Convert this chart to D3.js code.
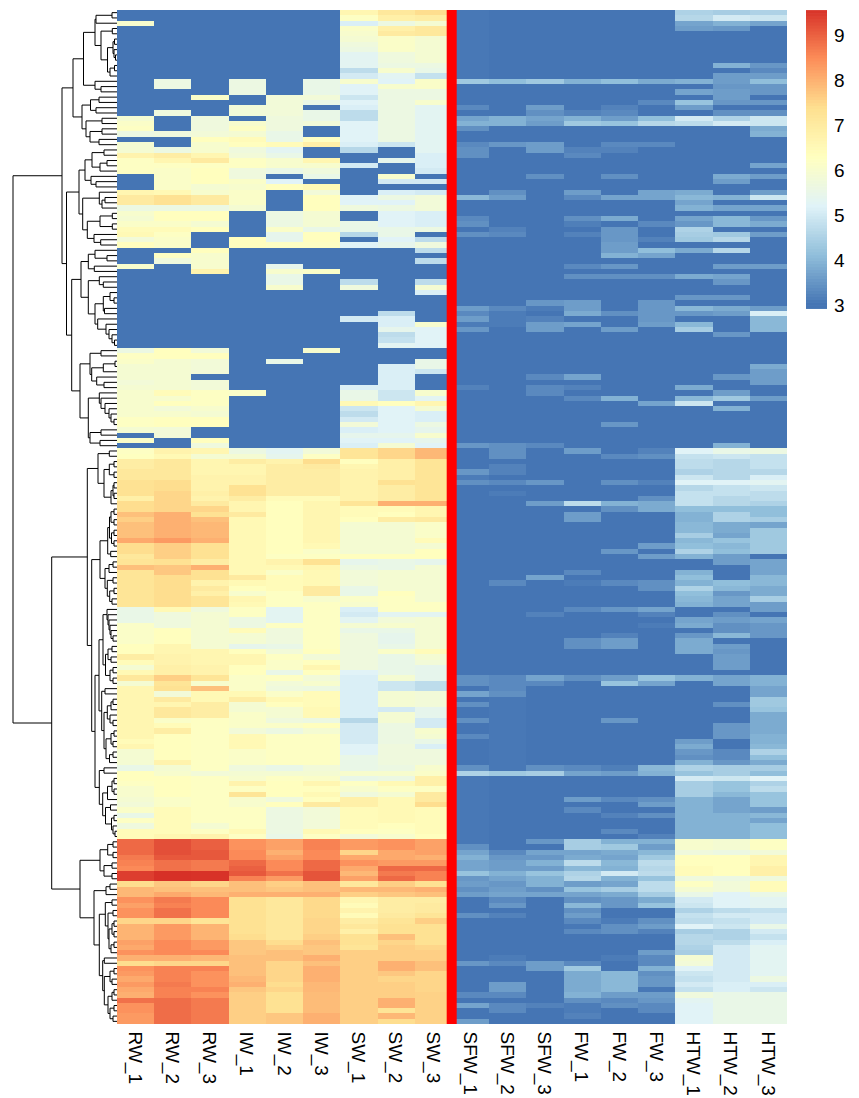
<!DOCTYPE html>
<html>
<head>
<meta charset="utf-8">
<script src="https://cdn.jsdelivr.net/npm/d3@7"></script>
<style>
  body { margin: 0; background: #fff; }
  text { font-family: "Liberation Sans", Arial, sans-serif; fill: #000; }
</style>
</head>
<body>
<div id="chart"></div>
<script>
const samples = ['RW_1', 'RW_2', 'RW_3', 'IW_1', 'IW_2', 'IW_3', 'SW_1', 'SW_2', 'SW_3',
  'SFW_1', 'SFW_2', 'SFW_3', 'FW_1', 'FW_2', 'FW_3', 'HTW_1', 'HTW_2', 'HTW_3'];
const rowCount = 192;

// each column: first row of a run, value of that run, ...
const RW_1 = [0,3, 2,6, 3,3, 20,5.9, 21,6.1, 22,6.2, 23,5.6, 24,3, 25,5.9, 27,6.7, 28,6.2, 31,3, 34,6.6, 35,7, 37,5.6, 38,6, 39,5.9, 40,6.1, 41,6.4, 42,6.5, 43,5.8, 44,6.3, 45,3, 48,6, 49,3, 64,5.6, 65,6.2, 66,6.1, 67,5.9, 70,5.8, 71,5.9, 72,6, 77,6.2, 79,5.9, 80,3, 81,6.1, 82,3, 83,6.2, 84,6.25, 85,6.9, 87,7.1, 89,7.3, 92,6.8, 93,7.4, 95,7.8, 96,7.6, 97,7.8, 100,8.1, 101,7.4, 103,7.1, 104,7.2, 105,7.8, 106,7.2, 113,5.5, 116,6.1, 120,6.3, 122,6.9, 123,6.4, 124,5.9, 125,6.5, 126,7.1, 127,5.9, 128,6.6, 138,6.4, 139,6.6, 140,5.9, 143,5.5, 144,6.3, 146,6.2, 147,6, 149,5.9, 150,5.8, 151,6.1, 152,5.5, 153,6.2, 154,5.7, 155,6.4, 157,8.9, 160,8.7, 161,8.6, 162,8.5, 163,9.4, 165,7.4, 166,7.9, 168,8.4, 169,8.2, 170,8.4, 172,7.5, 173,7.95, 176,8.2, 177,8.1, 178,8.4, 179,8, 180,7.4, 181,8.4, 182,8.3, 183,8.1, 184,8.3, 185,8.1, 186,8, 187,8.8, 188,8.4, 190,8.3];
const RW_2 = [0,3, 13,5.6, 15,3, 19,5.7, 20,3, 23,5.7, 24,3, 26,5.6, 27,6.9, 28,6.6, 29,6.2, 30,6.1, 34,6.5, 35,7.3, 37,5.6, 38,6.3, 40,6.1, 41,6.4, 42,6.2, 43,6.1, 45,3, 46,6.2, 47,5.7, 48,3, 64,6.3, 66,5.9, 72,6.4, 73,6, 74,6.3, 75,5.8, 76,6, 77,6.3, 79,5.8, 81,3, 83,6.7, 84,6.5, 85,7.1, 89,7.4, 91,7.5, 95,8, 100,8.3, 101,7.6, 104,7.3, 105,7.7, 107,7.4, 113,6.5, 114,5.7, 117,6.3, 120,6.6, 122,6.7, 124,6.8, 126,7.6, 127,7.2, 128,7.3, 129,5.8, 130,7, 131,6.6, 132,7.1, 134,6.1, 135,6.4, 136,6.9, 137,6.3, 142,6.7, 143,5.9, 144,6, 145,6.3, 149,6.1, 151,6.4, 156,6.6, 157,9.2, 160,9.1, 161,8.8, 163,9.6, 165,7.7, 166,7.8, 167,8.1, 168,8.7, 169,8.6, 170,8.8, 172,7.5, 173,8.3, 176,8.5, 179,8, 180,7.5, 181,8.6, 184,8.7, 185,8.6, 187,8.85];
const RW_3 = [0,3, 16,6.1, 17,3, 20,5.7, 23,5.8, 24,6.3, 25,6, 27,6.6, 28,7, 29,6.2, 30,6.3, 33,5.9, 34,6, 35,7, 37,5.6, 38,6.3, 40,5.9, 41,6.3, 42,3, 45,6.3, 46,6, 49,6.7, 50,3, 64,5.8, 65,6.3, 66,5.8, 69,3, 70,5.8, 72,6.2, 75,6, 76,5.9, 77,6.3, 79,3, 81,6.3, 82,5.7, 83,6.6, 84,5.9, 85,6.6, 88,6.7, 91,6.8, 92,6.7, 93,7, 94,7.5, 95,7.3, 96,7.8, 97,7.9, 100,8, 101,7.3, 104,6.9, 105,8, 106,7.3, 108,6.7, 109,7, 110,6.8, 111,7.2, 113,5.7, 114,5.9, 120,5.9, 121,6.6, 124,6.7, 126,7.2, 127,6, 128,7.8, 129,6.5, 131,6.9, 134,6.2, 144,5.8, 145,6.2, 154,5.9, 155,6.2, 156,6.7, 157,9, 159,9.1, 161,8.7, 163,9.55, 165,7.5, 166,7.8, 167,7.9, 168,8.5, 172,7.2, 173,7.95, 176,8.3, 178,8.5, 179,7.9, 180,7.5, 181,8.6, 182,8.4, 185,8.6, 186,8.4, 187,8.7];
const IW_1 = [0,3, 13,5.6, 16,3, 18,5.8, 20,3, 21,6, 22,6.2, 23,5.9, 24,6.4, 25,6.3, 26,5.7, 27,5.8, 28,6.2, 30,5.7, 32,6.1, 33,6, 34,6.1, 37,5.9, 38,3, 43,6.3, 45,3, 72,6.1, 73,3, 83,5.6, 84,5.9, 85,6.9, 86,6.6, 88,6.7, 90,7.3, 92,6.9, 93,6.6, 95,7, 96,6.5, 107,7, 108,6.5, 109,6.3, 110,6, 111,6.6, 112,6.5, 113,6.2, 115,5.6, 117,6.4, 118,5.9, 120,5.4, 121,6.3, 122,6.6, 124,6.3, 126,6.1, 129,6.5, 130,6.9, 131,5.9, 133,6.1, 136,5.8, 137,6.5, 140,6.1, 143,5.7, 144,5.9, 145,6, 146,6.7, 147,6.2, 148,7.2, 149,6, 151,6.2, 155,6.5, 156,6.2, 157,8.4, 159,8.5, 161,8.9, 162,9, 163,9.1, 164,8.6, 165,7.8, 167,8, 168,7.3, 175,7.4, 176,7.7, 179,7.8, 183,7.9, 184,8, 185,7.7, 186,7.6];
const IW_2 = [0,3, 16,5.8, 20,5.7, 23,5.5, 25,6.4, 26,5.3, 27,5.5, 28,6, 30,5.5, 31,3, 32,5.2, 33,6.3, 34,3, 38,5.6, 41,6.1, 42,5.4, 44,6.2, 45,3, 48,5.4, 49,6, 50,5.5, 52,6, 53,3, 66,5.5, 67,3, 83,5.3, 84,5.4, 85,6.7, 86,6.9, 92,6.4, 93,6.3, 103,6.2, 104,6.7, 105,6.5, 106,6.1, 107,6.4, 110,6.2, 113,5.3, 116,6.2, 117,5.7, 120,5.5, 121,5.8, 122,6.2, 123,6.1, 125,5.5, 126,6.2, 127,5.8, 128,5.7, 129,6.1, 130,6.5, 131,6.3, 132,5.9, 134,5.7, 135,6.1, 136,5.6, 137,6.2, 143,5.5, 144,5.9, 145,6.2, 146,6.3, 149,5.7, 150,6.3, 151,5.6, 156,5.5, 157,8.2, 159,8, 160,8.2, 161,8.5, 163,8.8, 164,8.3, 165,7.6, 166,7.7, 167,8, 168,7.1, 176,7.4, 177,7.6, 178,7.8, 180,7.5, 184,7.4, 185,7.5, 186,7.3, 190,7.7];
const IW_3 = [0,3, 13,5.5, 16,5.8, 17,5.5, 18,3, 19,5.5, 21,5.8, 22,3, 24,6.2, 25,6.8, 26,3, 28,6.6, 29,6, 30,5.7, 31,5.5, 32,3, 33,6.5, 34,5.8, 35,6.3, 38,5.9, 41,5.5, 42,6.3, 44,6.2, 45,3, 49,6.1, 50,3, 64,6, 65,3, 83,5.8, 84,6.2, 85,7.4, 86,7, 87,6.9, 92,6.4, 93,6.6, 101,6.5, 102,6.1, 103,6.2, 104,7.3, 105,6.6, 106,6.5, 109,7, 111,6, 112,6.2, 121,6.3, 122,5.8, 123,6.3, 124,6.6, 125,6.3, 126,5.8, 127,6, 128,5.6, 129,6.4, 132,6.5, 134,5.6, 135,6.3, 136,5.9, 137,6.2, 143,5.8, 144,5.9, 145,6.1, 146,6.6, 147,6.3, 148,6.5, 149,6.3, 150,7, 151,5.8, 155,6.5, 156,6.2, 157,8.6, 159,8.5, 161,8.9, 163,9.15, 165,7.8, 167,8, 168,7.45, 172,7.5, 175,7.6, 176,7.8, 177,7.7, 179,8, 180,7.8, 181,8, 184,7.9, 186,7.85, 190,8];
const SW_1 = [0,6.6, 1,6.2, 2,5.1, 3,6.1, 4,6, 5,5.9, 6,5.7, 7,5.6, 8,5.3, 11,4.7, 12,5, 13,6, 14,5.2, 16,4.9, 17,5.2, 18,5.1, 19,4.7, 21,5.2, 25,5.1, 26,4.6, 27,3, 29,5, 30,3, 35,5.2, 37,5.7, 38,3, 40,5.5, 42,4.6, 43,3, 44,5.2, 45,3, 51,4.7, 52,5.7, 53,3, 58,5, 59,3, 71,5.1, 72,5.5, 74,6.5, 75,4.9, 76,4.7, 77,5, 78,5.8, 79,5.1, 80,5.4, 81,5.2, 82,5.1, 83,7.2, 85,6.3, 86,6.6, 87,6.7, 93,7.2, 94,6.4, 96,6.3, 97,5.9, 103,6.3, 104,5.4, 105,5.6, 106,5.8, 109,5.5, 111,6.1, 112,6, 113,5.1, 114,5, 115,5.3, 116,5.9, 117,5.5, 118,5.7, 125,5.2, 126,5.1, 134,4.6, 135,5, 139,5.2, 141,5.5, 144,6, 145,5.5, 146,6.2, 147,6, 148,5.7, 149,6.8, 151,6.4, 155,6.3, 156,5.8, 157,8.3, 159,7.5, 160,8.1, 161,8.4, 162,8.1, 163,7.9, 164,8.2, 165,7.1, 166,7.9, 167,7.6, 168,6.6, 169,6.4, 170,6.7, 171,6.4, 172,6.9, 173,7.1, 174,6.8, 175,7.3, 177,7.2, 178,7.6];
const SW_2 = [0,7.1, 1,6.8, 2,5.6, 3,6.8, 4,7, 5,6.1, 8,5.7, 10,5.6, 11,6, 12,5.3, 13,5.2, 14,6, 15,5.6, 25,4.9, 26,3, 28,5.4, 29,3, 31,6, 32,5, 33,3, 34,5.1, 35,5.6, 36,5.2, 37,5.6, 38,5.2, 41,5.5, 42,5.5, 43,5.2, 44,5.4, 45,3, 57,4.7, 58,5.1, 60,5.4, 61,4.7, 62,4.8, 63,5.3, 64,3, 67,5.1, 72,4.9, 74,6.3, 75,5.2, 80,5.4, 81,5.2, 82,5.9, 83,7.5, 85,6.8, 89,7.3, 90,6.9, 93,8, 94,6.4, 95,6.3, 96,6.9, 97,5.9, 103,6.3, 104,5.5, 106,5.9, 110,6.3, 111,6.2, 114,5.3, 115,5.8, 116,6, 117,5.5, 118,5.4, 120,5.5, 121,6.1, 122,5.5, 126,5.9, 127,4.9, 129,5.9, 132,5, 133,5.9, 135,5.6, 139,5.7, 143,5.6, 144,6, 145,5.6, 146,6.5, 147,6.2, 148,5.9, 149,6.5, 154,6.3, 155,6.2, 156,6, 157,8.4, 159,8.1, 161,8.3, 162,8.9, 163,8.7, 164,8.9, 165,7.6, 166,7.9, 167,7.7, 168,6.9, 171,7, 172,7.2, 173,7.3, 175,7.8, 176,7.5, 177,7.6, 180,8, 182,7.7, 183,7.5, 184,7.6, 187,8, 189,7.2, 190,7.9, 191,7.4];
const SW_3 = [0,7.4, 1,6.9, 2,5.9, 3,7.1, 5,5.9, 10,5.6, 11,5.5, 12,4.8, 13,6.1, 15,5.6, 17,6, 18,5.3, 27,5.1, 30,5, 31,3, 32,5, 33,3, 34,5, 35,5.8, 38,5.1, 41,5.6, 42,3, 43,4.7, 44,5.7, 45,4.7, 46,3, 47,4.7, 48,3, 51,4.7, 52,5.9, 53,5.1, 54,3, 59,6, 60,5.2, 64,3, 66,5.5, 68,4.9, 69,3, 72,6, 73,5.3, 74,6.6, 75,5.9, 76,5.1, 78,5.6, 79,5.4, 80,6, 81,5.4, 82,5.2, 83,7.9, 85,7.2, 93,8, 94,6.6, 96,7, 97,6.1, 100,6.4, 101,5.9, 102,6.3, 104,5.4, 105,5.9, 112,6.2, 114,5.3, 115,5.9, 121,6.4, 122,5.9, 123,5.8, 124,5.4, 127,4.7, 129,5.8, 132,5.4, 134,5, 136,6, 137,5.9, 138,5.5, 139,5.1, 140,5.7, 143,6, 144,6.1, 145,6.8, 147,6.2, 148,7, 150,7.4, 151,6.4, 156,6.3, 157,8.2, 160,8, 161,8.3, 162,8.9, 163,8.6, 165,7.3, 166,8, 167,7.8, 168,6.9, 169,7, 171,7.2, 172,7.6, 173,7.3, 177,7.5, 178,7.6, 180,7.8, 182,7.5, 186,7.55];
const SFW_1 = [0,3.05, 13,4.3, 14,3, 18,3.3, 19,3, 20,3.7, 21,3.9, 22,3.4, 23,3, 25,3.3, 26,3.4, 28,3, 35,4, 36,3, 39,3.3, 40,3.4, 41,3, 42,3.4, 43,3, 56,3.6, 57,3.3, 58,3.6, 59,3.1, 60,3.5, 61,3, 71,3.2, 72,3, 82,3.5, 83,3, 87,3.5, 88,3.1, 89,3.4, 90,3, 126,3.4, 128,3, 129,3.7, 130,3, 131,3.4, 132,3, 134,3.4, 135,3, 137,3.3, 138,3, 143,3.4, 144,4.5, 145,3.05, 158,3.4, 159,3.7, 160,3.9, 161,3.7, 163,4.2, 164,3.5, 165,3.6, 166,3.4, 167,3.6, 168,3, 171,3.4, 172,3, 180,3.5, 181,3, 186,3.3, 187,3, 188,3.7, 189,3, 191,3.6];
const SFW_2 = [0,3, 13,4.1, 14,3, 20,3.9, 22,3, 25,3.5, 26,3, 34,3.4, 35,3.6, 36,3, 41,3.2, 42,3.3, 43,3, 56,3.3, 57,3.1, 60,3, 82,3.4, 84,3.4, 85,3, 86,3.2, 88,3, 89,3.3, 90,3, 91,3.1, 92,3, 108,3.3, 109,3, 126,3.3, 129,3.4, 130,3.05, 144,4.3, 145,3, 159,3.3, 160,3.5, 161,3.6, 163,3.9, 164,3.7, 165,3.5, 166,3.6, 167,3.7, 168,3.3, 169,3.5, 170,3, 171,3.2, 172,3, 179,3.1, 180,3.3, 181,3, 184,3.6, 186,3.3, 187,3, 188,3.3, 190,3];
const SFW_3 = [0,3, 13,4.3, 14,3, 18,3.6, 19,3.4, 20,3.7, 21,3.6, 22,3, 25,3.6, 27,3, 31,3.4, 32,3, 55,3.5, 56,3.1, 57,3, 58,3.2, 59,3.6, 61,3, 69,3.3, 70,3, 71,3.3, 73,3, 82,3.3, 83,3, 89,3.5, 90,3, 93,3.6, 94,3, 107,3.7, 108,3, 114,3.2, 115,3, 126,3.7, 127,3.3, 128,3, 143,3.4, 144,4.4, 145,3, 157,3.5, 158,3, 159,3.7, 160,3.5, 161,3.9, 162,3.6, 163,4.2, 164,3.9, 166,3.4, 167,3.7, 168,3, 180,3.6, 182,3, 188,3.2, 189,3];
const FW_1 = [0,3, 13,3.9, 14,3, 19,3.2, 20,3.9, 21,4.3, 22,3, 26,3.2, 27,3.3, 28,3, 34,3.6, 35,3.3, 36,3, 39,3.4, 40,3.15, 41,3, 42,3.2, 43,3, 48,3.3, 49,3, 50,3.4, 51,3, 55,3.6, 57,3.8, 58,3, 59,3.7, 60,3, 69,3.7, 70,3, 71,3.2, 72,3, 73,3.3, 74,3, 83,3.6, 84,3, 93,4.7, 94,3, 95,3.6, 97,3, 106,3.3, 107,3, 108,3.1, 109,3, 113,3.3, 114,3, 119,3.4, 121,3, 126,3.4, 127,3, 143,3.3, 144,3.7, 145,3, 149,3.6, 150,3, 151,3.3, 152,3, 157,4.4, 159,3.7, 160,3.8, 161,4.7, 162,4, 163,4.5, 164,4.6, 165,3.6, 166,4.2, 167,3.7, 168,3.4, 169,4, 170,3.4, 171,3.6, 172,3.3, 173,3.05, 174,3.3, 175,3, 180,3.3, 181,4.3, 182,3.8, 186,3.9, 187,3.4, 188,3.1, 190,3.2, 191,3];
const FW_2 = [0,3, 13,4.1, 14,3, 18,3.2, 19,3.3, 20,3.6, 21,4.2, 22,3, 25,3.3, 26,3.2, 27,3, 31,3.4, 32,3, 35,3.7, 36,3, 39,3.8, 40,3, 41,3.5, 44,3.6, 46,3.9, 47,3, 48,3.5, 49,3, 50,3.4, 51,3, 57,3.4, 58,3, 60,3.6, 61,3, 73,3.9, 74,3, 78,3.5, 79,3, 84,3.3, 85,3, 89,3.4, 90,3, 93,3.9, 94,3.4, 95,3, 102,3.5, 103,3, 108,3.3, 109,3, 113,3.5, 114,3, 118,3.2, 119,3.6, 121,3, 126,3.6, 127,4.2, 128,3, 134,3.5, 135,3, 143,3.15, 144,3.6, 145,3, 149,3.3, 150,3, 152,3.2, 153,3, 155,3.3, 156,3, 157,3.9, 158,4.3, 159,3.8, 160,3.7, 161,4, 162,3.9, 163,5, 164,3.9, 165,3.7, 166,4.4, 167,3.8, 168,3.5, 170,3, 172,3.1, 173,3.4, 175,3, 179,3.1, 180,3, 182,4, 186,3.6, 187,3.3, 188,3.4, 189,3];
const FW_3 = [0,3, 13,3.8, 14,3, 17,3.3, 18,3, 20,4.1, 21,4.6, 22,3, 25,3.3, 26,3, 34,3.7, 36,3, 40,3.3, 41,3, 43,3.2, 44,3, 45,4.1, 46,3.7, 47,3, 50,3.4, 51,3, 55,3.5, 59,3.6, 60,3, 74,3.7, 75,3, 83,3.2, 84,3.4, 85,3, 89,3.2, 90,3, 92,3.4, 93,3.8, 95,3, 101,3.6, 102,3, 103,3.6, 104,3, 108,3.4, 110,3, 113,3.7, 114,3.2, 115,3, 116,3.1, 117,3, 126,4.2, 127,3.7, 128,3, 143,4, 144,3.9, 145,3, 149,3.4, 150,3.6, 151,3, 152,3.4, 153,3, 156,3.2, 157,3.9, 158,3.6, 159,4, 160,4.3, 161,4.7, 162,4.6, 163,4.7, 164,4.2, 165,4.7, 167,4.4, 168,3.8, 169,4.2, 170,3, 172,3.4, 173,3.6, 174,3.2, 175,3, 178,3.6, 179,3.3, 181,3.9, 182,3.4, 183,3.5, 185,3.05, 186,3.6, 187,3.5, 188,3.3, 190,3];
const HTW_1 = [0,4.5, 1,4.6, 2,3.7, 3,3.6, 4,3, 13,3.9, 14,3, 15,3.7, 16,3, 17,4.2, 18,3.6, 19,3, 20,5, 21,4.7, 22,3, 34,3.8, 35,4, 36,3.7, 37,3.9, 38,3, 39,3.7, 40,3.5, 41,4.5, 42,4.4, 43,4.3, 44,3, 45,3.8, 46,3, 50,3.8, 51,3, 54,3.5, 55,3, 56,4, 57,3.5, 58,3, 59,4, 60,4.4, 61,3, 71,3.8, 72,3, 73,4, 74,4.9, 75,3, 83,5.2, 84,4.8, 85,4.7, 87,4.5, 88,4.9, 89,5.2, 90,4.6, 91,4.8, 94,4.1, 95,3.9, 97,4, 99,4.4, 100,4, 101,4.1, 102,4.5, 103,3.9, 104,3, 106,3.9, 107,4.1, 108,3.9, 109,4.5, 110,4.1, 111,4, 112,3.9, 113,3, 115,3.7, 116,3.8, 117,3, 118,3.5, 119,3.8, 122,3, 126,3.9, 127,3, 138,3.6, 139,3.8, 140,3.5, 141,3.4, 142,3.9, 143,4.5, 144,4.2, 145,5, 146,4.4, 149,3.9, 157,6, 159,5.7, 160,6.3, 162,6.4, 164,5.7, 165,6.2, 166,5.9, 167,5.5, 168,5, 169,4.9, 170,4.5, 171,4.8, 172,4.7, 173,5.2, 174,4.4, 175,4.6, 177,4.5, 178,4.4, 179,5.9, 180,5.8, 181,5.2, 182,4.9, 183,4.8, 184,5, 185,4.8, 186,5.7, 187,5.3, 188,5.2];
const HTW_2 = [0,4.4, 1,5, 2,3.9, 3,3.5, 4,3, 10,3.9, 11,3, 12,3.6, 14,3.5, 15,3.6, 17,3.5, 18,3, 19,3.4, 20,4.5, 21,5, 22,3, 31,3.8, 32,3.6, 33,3, 35,3.9, 36,3, 37,3.7, 38,3, 39,4, 41,3, 42,4.3, 43,4.6, 44,3, 45,4.6, 46,3, 48,3.6, 49,3, 50,3.7, 51,3.5, 52,3, 54,3.5, 55,3, 56,3.8, 57,3.6, 58,3, 61,3.5, 62,3, 69,3.5, 70,3, 72,3.6, 73,4.3, 74,3, 75,3.9, 76,3, 82,3.9, 83,5.5, 84,4.9, 85,4.6, 89,5.2, 90,4.8, 92,4.6, 94,4.1, 95,4.5, 97,3.8, 99,3.7, 100,4.2, 101,4, 102,4.1, 103,3.6, 105,3, 108,4.1, 109,4, 110,3.5, 111,3.7, 113,3, 114,3.4, 115,3.6, 116,3.4, 118,4, 119,3, 120,3.6, 121,3.5, 122,3.6, 125,3, 126,3.7, 128,3, 131,3.4, 132,3, 135,3.5, 138,3, 140,3.3, 142,3.5, 143,4.4, 145,4.9, 146,4.2, 148,4, 149,3.7, 152,3.9, 157,5.9, 159,5.6, 160,6.3, 164,5.6, 165,5.8, 167,5.2, 170,4.7, 171,5, 172,4.8, 173,4.9, 174,4.5, 176,4.7, 177,5, 184,5.1, 186,5.5];
const HTW_3 = [0,4.5, 1,4.9, 2,3.7, 3,3, 10,3.5, 11,3.3, 12,3.6, 13,4.1, 14,3.5, 16,3, 17,3.5, 18,3, 19,3.4, 20,4.9, 22,3.8, 23,3.9, 24,3, 29,3.7, 30,3, 31,3.6, 32,3, 34,3.6, 35,4.9, 36,3, 37,3.7, 38,3, 39,3.5, 40,3.8, 41,3, 42,3.6, 43,3, 48,3.6, 49,3, 56,3.6, 57,5.1, 58,4, 61,3, 67,3.8, 68,3.6, 71,3, 73,3.6, 74,3, 83,5.6, 84,4.8, 87,4.6, 88,5.1, 89,5.3, 90,4.9, 91,4.7, 93,4.5, 94,4.1, 96,4.4, 97,3.7, 98,4.3, 103,3, 104,3.7, 107,4, 109,3.8, 111,4.4, 112,3.6, 114,3, 115,3.7, 116,3.5, 119,3, 126,3.9, 128,3.7, 130,4.3, 132,4.2, 133,3.8, 137,3.9, 139,4, 140,4.5, 141,4.1, 142,3.8, 143,4.4, 144,4.1, 145,5.2, 146,4.5, 147,4.7, 148,4.2, 151,3.6, 152,4, 153,3.7, 154,4.1, 157,6.2, 159,5.8, 160,6.6, 162,6.8, 164,5.7, 165,6.4, 167,5.5, 168,5.3, 170,4.8, 171,5, 173,5.5, 174,5, 175,4.8, 176,5.1, 177,5.3, 183,5.6, 184,5.1, 185,4.9, 186,5.5];

const columnRuns = [RW_1, RW_2, RW_3, IW_1, IW_2, IW_3, SW_1, SW_2, SW_3,
  SFW_1, SFW_2, SFW_3, FW_1, FW_2, FW_3, HTW_1, HTW_2, HTW_3];

// row clustering: [merge height, upper child, lower child], 0 is a leaf row
const rowTree = [104,
  [55,
    [44,
      [33.5,
        [22, [21, [5, 0, 0], 0],
          [16, [4.7, 0, 0], [9.5, [4, [2.5, 0, 0], [3, 0, [1.5, 0, 0]]], [7, [2.5, 0, 0], 0]]]],
        [22, 0, [16, 0, 0]]],
      [35,
        [26.5, [18, 0, 0], [21, 0, 0]],
        [31, [15, 0, 0], [27, [15, 0, 0], [18, 0, 0]]]]],
    [50.5,
      [38,
        [32, [25, [13, 0, 0], [17, [10, 0, 0], 0]], [26, 0, [21, 0, 0]]],
        [34.3, [17.7, 0, [15, [12, 0, 0], 0]],
          [29.7, [17, [4.7, 0, 0], [4.7, 0, 0]], [23, 0, [16.3, 0, 0]]]]],
      [45.3,
        [36,
          [28.7, [22, 0, [10, 0, 0]], [22.7, 0, 0]],
          [28.7, [17.7, 0, [13.7, 0, 0]],
            [22, [13.7, [7, 0, [3, 0, 0]], [12.5, 0, 0]],
              [19.3, 0, [11, 0, [8, 0, [5, 0, [2.5, 0, 0]]]]]]]],
        [37,
          [27, [16, 0, 0], [25.3, [13.7, [2, 0, 0], 0], [20.3, 0, [13, 0, 0]]]],
          [28.7, [17.7, 0, [16, 0, [12, 0, [8, 0, [6, 0, [3, 0, 0]]]]]],
            [27, [16, 0, 0], [17, 0, 0]]]]]]],
  [65.3,
    [29.7,
      [19, [7.7, 0, 0],
        [13, [7.7, [3, 0, 0], [3, 0, 0]], [6, [4, [3, 0, 0], [3, 0, 0]], 0]]],
      [25.3,
        [17,
          [9.3, [7.5, [6, [3, 0, 0], [3, 0, 0]], [5.5, [3, 0, 0], [3, 0, 0]]], [6.3, 0, 0]],
          [12, [8, [4, 0, 0], 0], [9.7, [4, 0, 0], [7.3, [3, 0, 0], [5, 0, 0]]]]],
        [22,
          [18,
            [14, [10, 0, [9, 0, [8, 0, [7, 0, [6, 0, [4, 0, 0]]]]]],
              [11.5, [9, [5, 0, 0], [6, 0, 0]], [7, [4, 0, 0], [4, 0, 0]]]],
            [15.3, [12, 0, 0],
              [13, [9.7, [6, [4, 0, 0], 0], [7, 0, [4, 0, 0]]],
                [11, [6, [3, 0, 0], [4, 0, 0]], [7.5, [4, 0, 0], 0]]]]],
          [17.7, [13, 0, 0],
            [14.3, [9.5, [5, [3, 0, 0], [3, 0, 0]], 0],
              [11.5, [6.5, 0, 0], [5.5, [3, 0, 0], [4, 0, [2, 0, 0]]]]]]]]],
    [37,
      [17, [9.3, [4, 0, 0], [4, 0, 0]], [13, [5, 0, 0], [5, 0, 0]]],
      [23, [11, [7, 0, 0], 0],
        [17.7,
          [11.7, [5, 0, 0], [9, [4, 0, 0], [8, [5, [3, 0, 0], [3, 0, 0]], [6, [3, 0, 0], 0]]]],
          [14.3, [12.7, 0, 0],
            [12.7, [7, [3, 0, 0], [5, 0, 0]],
              [9, [5, [3, 0, 0], 0], [7, [3, 0, 0], [4, 0, 0]]]]]]]]]];

const legendTicks = [3, 4, 5, 6, 7, 8, 9];
const paletteStops = [3, 4.1, 5.18, 6.27, 7.37, 8.47, 9.57];
const paletteColors = ['#4575B4', '#91BFDB', '#E0F3F8', '#FFFFBF', '#FEE090', '#FC8D59', '#D73027'];

const width = 859;
const height = 1098;

const svg = d3.select('#chart').append('svg')
  .attr('width', width)
  .attr('height', height)
  .style('display', 'block');

const x = d3.scaleBand().domain(samples).range([117, 787]);
const y = d3.scaleBand().domain(d3.range(rowCount)).range([10, 1024]);
const color = d3.scaleLinear().domain(paletteStops).range(paletteColors).clamp(true);

const expandRuns = (runs) => {
  const out = [];
  for (let i = 0; i < runs.length; i += 2) {
    const end = i + 2 < runs.length ? runs[i + 2] : rowCount;
    for (let r = runs[i]; r < end; r++) out.push({ row: r, value: runs[i + 1] });
  }
  return out;
};

// heatmap
svg.append('g').selectAll('g')
  .data(samples)
  .join('g')
  .each(function (name, c) {
    d3.select(this).selectAll('rect')
      .data(expandRuns(columnRuns[c]))
      .join('rect')
      .attr('x', x(name))
      .attr('y', (d) => y(d.row))
      .attr('width', x.bandwidth())
      .attr('height', y.bandwidth())
      .attr('fill', (d) => color(d.value))
      .attr('shape-rendering', 'crispEdges');
  });

// red divider between SW_3 and SFW_1
svg.append('line')
  .attr('x1', x('SFW_1') - 0.3)
  .attr('x2', x('SFW_1') - 0.3)
  .attr('y1', 10)
  .attr('y2', 1024)
  .attr('stroke', '#ff0000')
  .attr('stroke-width', 10);

// dendrogram
const treeX = d3.scaleLinear().domain([0, 104]).range([117, 13]);
const root = d3.hierarchy(rowTree, (d) => (Array.isArray(d) ? d.slice(1) : null));
let leafIndex = 0;
root.eachAfter((n) => {
  if (n.children) {
    n.py = d3.mean(n.children, (c) => c.py);
    n.px = treeX(n.data[0]);
  } else {
    n.py = y(leafIndex++) + y.bandwidth() / 2;
    n.px = treeX(0);
  }
});
svg.append('g').selectAll('path')
  .data(root.descendants().filter((n) => n.children))
  .join('path')
  .attr('fill', 'none')
  .attr('stroke', '#000')
  .attr('stroke-width', 1)
  .attr('d', (n) => {
    const [a, b] = n.children;
    return `M${a.px},${a.py}H${n.px}V${b.py}H${b.px}`;
  });

// column labels
svg.append('g').selectAll('text')
  .data(samples)
  .join('text')
  .attr('transform', (d) => `translate(${x(d) + x.bandwidth() / 2},1031.5) rotate(90)`)
  .attr('dy', '0.36em')
  .attr('font-size', 19)
  .text((d) => d);

// colour legend
const legendY = d3.scaleLinear().domain([3, 9]).range([305.3, 35.7]);
const legendSteps = d3.range(100).map((i) => 2.93 + (i * (9.57 - 2.93)) / 100);
svg.append('g').selectAll('rect')
  .data(legendSteps)
  .join('rect')
  .attr('x', 806)
  .attr('width', 21)
  .attr('y', (d) => legendY(d + (9.57 - 2.93) / 100))
  .attr('height', legendY(3) - legendY(3 + (9.57 - 2.93) / 100) + 0.5)
  .attr('fill', (d) => color(d));

const legendAxis = svg.append('g')
  .attr('transform', 'translate(827,0)')
  .call(d3.axisRight(legendY).tickValues(legendTicks).tickSize(0).tickPadding(7).tickFormat(d3.format('d')));
legendAxis.select('.domain').remove();
legendAxis.selectAll('text')
  .attr('font-size', 19)
  .attr('font-family', '"Liberation Sans", Arial, sans-serif');
</script>
</body>
</html>
